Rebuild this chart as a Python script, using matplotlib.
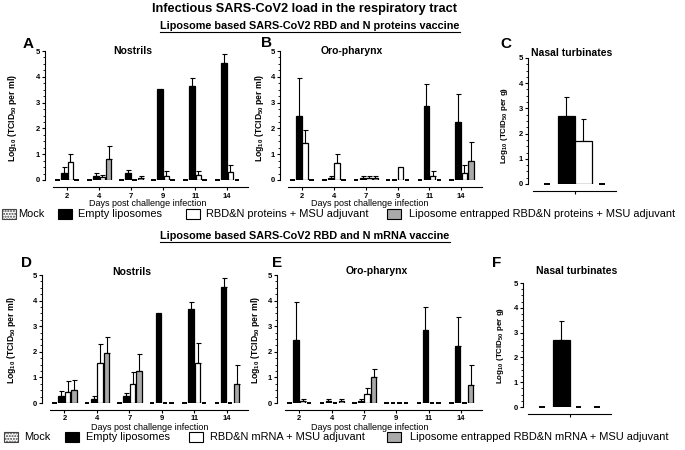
import numpy as np
import matplotlib
matplotlib.use("Agg")
import matplotlib.pyplot as plt
from matplotlib.patches import Rectangle
from matplotlib.lines import Line2D

FONT = ['Liberation Sans', 'DejaVu Sans']
plt.rcParams['font.family'] = FONT
plt.rcParams['font.weight'] = 'bold'
plt.rcParams['mathtext.fontset'] = 'custom'
plt.rcParams['mathtext.rm'] = 'Liberation Sans:bold'
plt.rcParams['mathtext.default'] = 'rm'

# ---------------- data ----------------
days = ["2", "4", "7", "9", "11", "14"]
groups_top = ["Mock", "Empty liposomes", "RBD&N proteins + MSU adjuvant",
              "Liposome entrapped RBD&N proteins + MSU adjuvant"]
groups_bot = ["Mock", "Empty liposomes", "RBD&N mRNA + MSU adjuvant",
              "Liposome entrapped RBD&N mRNA + MSU adjuvant"]

# Panel A: nostrils, proteins vaccine (mean, upper SD)
A_mock = [0, 0, 0, 0, 0, 0]
A_empty = [0.29, 0.16, 0.26, 3.53, 3.66, 4.55]
A_empty_err = [0.20, 0.13, 0.13, 0.0, 0.28, 0.32]
A_rbd = [0.69, 0.13, 0.0, 0.16, 0.18, 0.30]
A_rbd_err = [0.32, 0.05, 0.0, 0.20, 0.18, 0.27]
A_lipo = [0.0, 0.80, 0.09, 0.0, 0.0, 0.0]
A_lipo_err = [0.0, 0.50, 0.08, 0.0, 0.0, 0.0]

# Panel B: oro-pharynx, proteins vaccine
B_mock = [0, 0, 0, 0, 0, 0]
B_empty = [2.47, 0.09, 0.09, 0.0, 2.86, 2.23]
B_empty_err = [1.49, 0.07, 0.06, 0.0, 0.88, 1.12]
B_rbd = [1.45, 0.65, 0.06, 0.50, 0.16, 0.26]
B_rbd_err = [0.50, 0.35, 0.09, 0.0, 0.19, 0.31]
B_lipo = [0.0, 0.0, 0.09, 0.0, 0.0, 0.72]
B_lipo_err = [0.0, 0.0, 0.06, 0.0, 0.0, 0.75]

# Panel C: nasal turbinates, proteins vaccine
C_vals = [0.0, 2.70, 1.72, 0.0]
C_err = [0.0, 0.75, 0.85, 0.0]

# Panel D: nostrils, mRNA vaccine
D_mock = [0, 0, 0, 0, 0, 0]
D_empty = [0.29, 0.16, 0.26, 3.53, 3.66, 4.53]
D_empty_err = [0.19, 0.13, 0.13, 0.0, 0.28, 0.34]
D_rbd = [0.42, 1.58, 0.74, 0.0, 1.58, 0.0]
D_rbd_err = [0.42, 0.73, 0.47, 0.0, 0.78, 0.0]
D_lipo = [0.52, 1.96, 1.26, 0.0, 0.0, 0.74]
D_lipo_err = [0.36, 0.61, 0.66, 0.0, 0.0, 0.75]

# Panel E: oro-pharynx, mRNA vaccine
E_mock = [0, 0, 0, 0, 0, 0]
E_empty = [2.47, 0.09, 0.09, 0.0, 2.86, 2.23]
E_empty_err = [1.49, 0.07, 0.06, 0.0, 0.88, 1.12]
E_rbd = [0.08, 0.0, 0.35, 0.0, 0.0, 0.0]
E_rbd_err = [0.07, 0.0, 0.22, 0.0, 0.0, 0.0]
E_lipo = [0.0, 0.08, 1.00, 0.0, 0.0, 0.72]
E_lipo_err = [0.0, 0.09, 0.33, 0.0, 0.0, 0.75]

# Panel F: nasal turbinates, mRNA vaccine
F_vals = [0.0, 2.70, 0.0, 0.0]
F_err = [0.0, 0.75, 0.0, 0.0]

W, H = 685, 450
fig = plt.figure(figsize=(W / 100, H / 100), dpi=100)

GRAY = '#a9a9a9'
faces = ['white', 'black', 'white', GRAY]
hatches = ['......', None, None, None]


def px_axes(l, t, r, b):
    return fig.add_axes([l / W, 1 - b / H, (r - l) / W, (b - t) / H])


def style_axes(ax):
    ax.set_ylim(0, 5)
    ax.set_yticks([0, 1, 2, 3, 4, 5])
    ax.set_yticks(np.arange(0, 5.01, 0.25), minor=True)
    ax.spines['top'].set_visible(False)
    ax.spines['right'].set_visible(False)
    ax.spines['bottom'].set_position(('outward', 5))
    ax.spines['left'].set_linewidth(0.8)
    ax.spines['bottom'].set_linewidth(0.8)
    ax.tick_params(axis='y', which='major', length=2.5, width=0.8, labelsize=5.5, pad=1)
    ax.tick_params(axis='y', which='minor', length=1.2, width=0.6)
    ax.tick_params(axis='x', length=2.5, width=0.8, labelsize=5.5, pad=1.5)
    for lab in ax.get_yticklabels() + ax.get_xticklabels():
        lab.set_fontweight('bold')
    ax.patch.set_visible(False)


def draw_bar(ax, x, h, err, w, face, hatch):
    if h > 0:
        ax.bar(x, h, width=w, color=face, edgecolor='black', linewidth=0.9,
               hatch=hatch, zorder=3)
    else:
        ax.hlines(h, x - w * 0.42, x + w * 0.42, colors='black',
                  linewidth=1.4, zorder=3, clip_on=False)
    if err > 0:
        ax.errorbar(x, h, yerr=[[0], [err]], fmt='none', ecolor='black',
                    elinewidth=0.8, capsize=1.8, capthick=0.8, zorder=2)


def time_panel(rect, series, errs):
    ax = px_axes(*rect)
    xs = np.arange(len(days))
    offs = [-0.3, -0.1, 0.1, 0.3]
    for k in range(4):
        for i in range(len(days)):
            draw_bar(ax, xs[i] + offs[k], series[k][i], errs[k][i], 0.17,
                     faces[k], hatches[k])
    ax.set_xlim(-0.69, 5.65)
    ax.set_xticks(xs)
    ax.set_xticklabels(days)
    ax.spines['bottom'].set_bounds(-0.45, 5.65)
    style_axes(ax)
    return ax


def single_panel(rect, vals, errs):
    ax = px_axes(*rect)
    pos = [-1.65, -0.5, 0.5, 1.6]
    for k in range(4):
        w = 1.0 if vals[k] > 0 else 0.4
        draw_bar(ax, pos[k], vals[k], errs[k], w, faces[k], hatches[k])
    ax.set_xlim(-2.76, 2.41)
    ax.set_xticks([0])
    ax.set_xticklabels([''])
    ax.spines['bottom'].set_bounds(-2.45, 2.41)
    style_axes(ax)
    return ax


zero6 = [0] * 6
axA = time_panel((45, 51, 248, 180), [A_mock, A_empty, A_rbd, A_lipo],
                 [zero6, A_empty_err, A_rbd_err, A_lipo_err])
axB = time_panel((280, 51, 482, 180), [B_mock, B_empty, B_rbd, B_lipo],
                 [zero6, B_empty_err, B_rbd_err, B_lipo_err])
axC = single_panel((528, 58, 616, 184), C_vals, C_err)
axD = time_panel((42, 275, 248, 403), [D_mock, D_empty, D_rbd, D_lipo],
                 [zero6, D_empty_err, D_rbd_err, D_lipo_err])
axE = time_panel((277, 275, 482, 403), [E_mock, E_empty, E_rbd, E_lipo],
                 [zero6, E_empty_err, E_rbd_err, E_lipo_err])
axF = single_panel((523, 283, 611, 407), F_vals, F_err)


def ftext(x, y, s, size, ha='center', va='center', rot=0, weight='bold'):
    return fig.text(x / W, 1 - y / H, s, fontsize=size, ha=ha, va=va,
                    rotation=rot, fontweight=weight)


ylab_ml = r'Log$_{10}$ (TCID$_{50}$ per ml)'
ylab_g = r'Log$_{10}$ (TCID$_{50}$ per g)'
ftext(13, 118, ylab_ml, 6.2, rot=90)
ftext(259, 118, ylab_ml, 6.2, rot=90)
ftext(505, 125, ylab_g, 5.8, rot=90)
ftext(12, 340, ylab_ml, 6.2, rot=90)
ftext(255, 340, ylab_ml, 6.2, rot=90)
ftext(500, 345, ylab_g, 5.8, rot=90)

ftext(305, 9, "Infectious SARS-CoV2 load in the respiratory tract", 9.2)
sub1 = ftext(310, 26, "Liposome based SARS-CoV2 RBD and N proteins vaccine", 7.8)
sub2 = ftext(305, 236, "Liposome based SARS-CoV2 RBD and N mRNA vaccine", 7.8)

for lx, ly, s in [(28, 44, 'A'), (266, 43, 'B'), (506, 44, 'C'),
                  (27, 263, 'D'), (277, 263, 'E'), (497, 263, 'F')]:
    ftext(lx, ly, s, 11)

ftext(133, 51, "Nostrils", 7.5)
ftext(352, 51, "Oro-pharynx", 7.5)
ftext(572, 53, "Nasal turbinates", 7.5)
ftext(132, 272, "Nostrils", 7.5)
ftext(377, 271, "Oro-pharynx", 7.5)
ftext(577, 271, "Nasal turbinates", 7.5)

ftext(148, 203, "Days post challenge infection", 6.5, weight='normal')
ftext(370, 203, "Days post challenge infection", 6.5, weight='normal')
ftext(150, 427, "Days post challenge infection", 6.5, weight='normal')
ftext(370, 427, "Days post challenge infection", 6.5, weight='normal')


def legend_row(y, labels, box_x, text_x):
    for k in range(4):
        r = Rectangle((box_x[k] / W, 1 - (y + 5) / H), 14 / W, 10 / H,
                      transform=fig.transFigure, facecolor=faces[k],
                      edgecolor='black' if k != 0 else '#444444',
                      hatch=hatches[k], linewidth=0.8)
        fig.add_artist(r)
        ftext(text_x[k], y, labels[k], 7.9, ha='left', weight='normal')


legend_row(214, groups_top, [2, 58, 186, 387], [18, 78, 206, 409])
legend_row(437, groups_bot, [4, 65, 189, 387], [24, 86, 210, 410])

# underline the subtitles
fig.canvas.draw()
rend = fig.canvas.get_renderer()
for t in (sub1, sub2):
    bb = t.get_window_extent(rend)
    yline = bb.y0 - 0.5
    fig.add_artist(Line2D([bb.x0 / W, bb.x1 / W], [yline / H, yline / H],
                          transform=fig.transFigure, color='black', linewidth=0.8))

fig.savefig("out.png", dpi=100)
